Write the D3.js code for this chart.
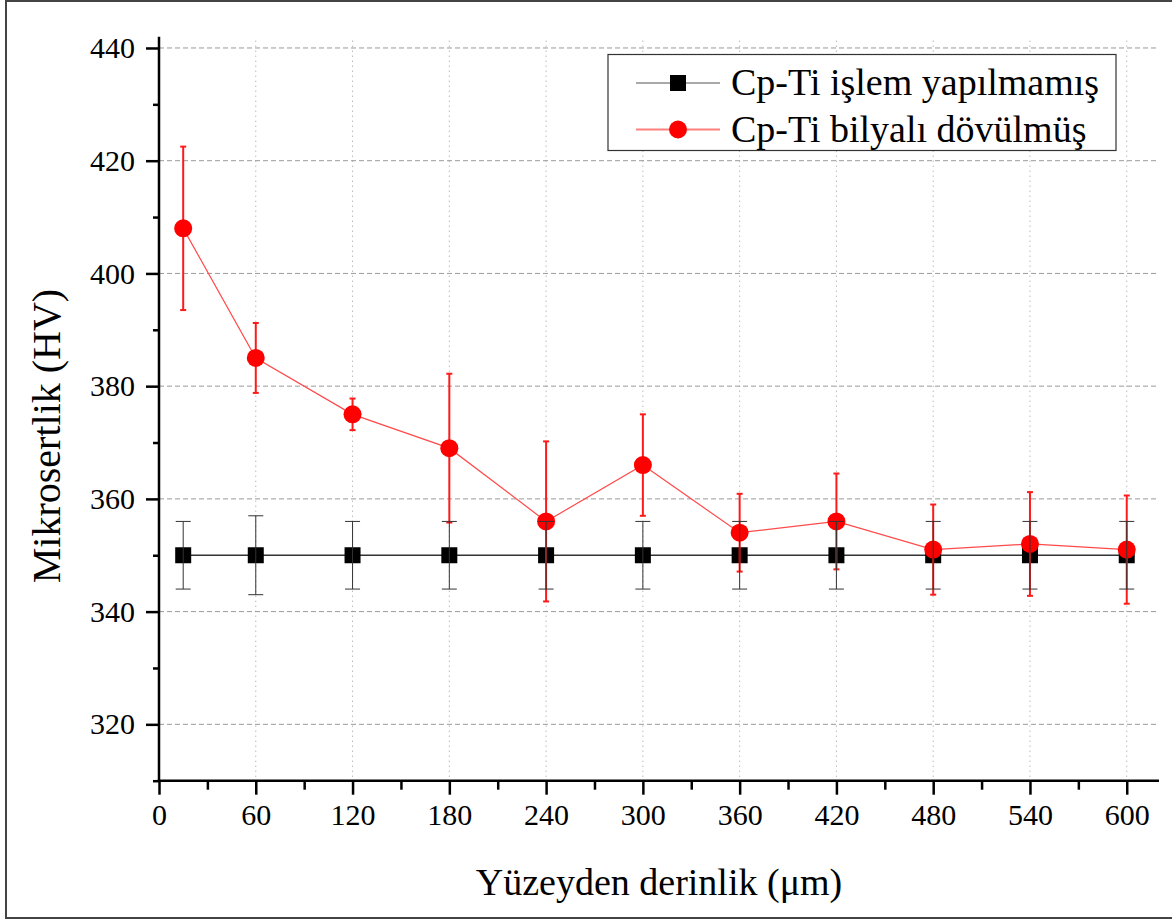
<!DOCTYPE html>
<html>
<head>
<meta charset="utf-8">
<script src="https://cdn.jsdelivr.net/npm/d3@7"></script>
<style>
  html, body { margin: 0; padding: 0; background: #fff; }
  svg { display: block; }
  text { font-family: "Liberation Serif", "Times New Roman", serif; fill: #000; }
</style>
</head>
<body>
<svg id="chart" width="1172" height="919"></svg>
<script>
// Depth below surface (µm)
const depth = [15, 60, 120, 180, 240, 300, 360, 420, 480, 540, 600];
// Microhardness (HV), untreated Cp-Ti
const untreated = [350, 350, 350, 350, 350, 350, 350, 350, 350, 350, 350];
const untreatedErr = [6, 7, 6, 6, 6, 6, 6, 6, 6, 6, 6];
// Microhardness (HV), shot-peened Cp-Ti
const peened = [408, 385, 375, 369, 356, 366, 354, 356, 351, 352, 351];
const peenedErr = [14.5, 6.2, 2.8, 13.2, 14.2, 9, 6.9, 8.5, 8, 9.2, 9.6];

const xTicks = [0, 60, 120, 180, 240, 300, 360, 420, 480, 540, 600];
const xMinor = [30, 90, 150, 210, 270, 330, 390, 450, 510, 570];
const yTicks = [320, 340, 360, 380, 400, 420, 440];
const yMinor = [310, 330, 350, 370, 390, 410, 430];

const seriesNames = ["Cp-Ti işlem yapılmamış", "Cp-Ti bilyalı dövülmüş"];
const xTitle = "Yüzeyden derinlik (μm)";
const yTitle = "Mikrosertlik (HV)";

const serif = "'Liberation Serif', 'Times New Roman', serif";
const svg = d3.select("#chart");

// outer frame
svg.append("rect")
  .attr("x", 6).attr("y", 1).attr("width", 1180).attr("height", 917)
  .attr("fill", "none").attr("stroke", "#444").attr("stroke-width", 2);

const plot = { left: 159, right: 1159, top: 36.7, bottom: 780.7 };

const x = d3.scaleLinear().domain([0, 620]).range([plot.left, plot.right]);
const y = d3.scaleLinear().domain([310, 442]).range([plot.bottom, plot.top]);

// grid
const grid = svg.append("g");
grid.selectAll("line.h").data(yTicks).join("line")
  .attr("x1", plot.left).attr("x2", plot.right)
  .attr("y1", d => y(d)).attr("y2", d => y(d))
  .attr("stroke", "#9a9a9a").attr("stroke-width", 1)
  .attr("stroke-dasharray", "5,3");
grid.selectAll("line.v").data(xTicks.filter(d => d > 0)).join("line")
  .attr("x1", d => x(d)).attr("x2", d => x(d))
  .attr("y1", plot.top + 4).attr("y2", plot.bottom)
  .attr("stroke", "#9a9a9a").attr("stroke-width", 1)
  .attr("stroke-dasharray", "1,4");

// axes
const axisStyle = g => {
  g.attr("font-family", serif);
  g.select(".domain").remove();
  g.selectAll(".tick line").attr("stroke", "#000").attr("stroke-width", 2.5);
  g.selectAll(".tick text").attr("font-family", serif)
    .style("font-family", serif).style("font-size", "30px").attr("fill", "#000");
};

svg.append("g").attr("transform", `translate(0,${plot.bottom})`)
  .call(d3.axisBottom(x).tickValues(xMinor).tickSize(9).tickFormat(""))
  .call(axisStyle);
svg.append("g").attr("transform", `translate(0,${plot.bottom})`)
  .call(d3.axisBottom(x).tickValues(xTicks).tickSize(14).tickPadding(9).tickFormat(d3.format("d")))
  .call(axisStyle);
svg.append("g").attr("transform", `translate(${plot.left},0)`)
  .call(d3.axisLeft(y).tickValues(yMinor).tickSize(6).tickFormat(""))
  .call(axisStyle);
svg.append("g").attr("transform", `translate(${plot.left},0)`)
  .call(d3.axisLeft(y).tickValues(yTicks).tickSize(13).tickPadding(11).tickFormat(d3.format("d")))
  .call(axisStyle);

// axis lines
svg.append("line").attr("x1", plot.left).attr("x2", plot.left)
  .attr("y1", plot.top).attr("y2", plot.bottom + 1.25)
  .attr("stroke", "#000").attr("stroke-width", 2.5);
svg.append("line").attr("x1", plot.left - 1.25).attr("x2", plot.right)
  .attr("y1", plot.bottom).attr("y2", plot.bottom)
  .attr("stroke", "#000").attr("stroke-width", 2.5);

const ptsU = depth.map((d, i) => ({ x: d, y: untreated[i], e: untreatedErr[i] }));
const ptsP = depth.map((d, i) => ({ x: d, y: peened[i], e: peenedErr[i] }));
const line = d3.line().x(d => x(d.x)).y(d => y(d.y));

function errorBars(g, pts, color, width, capHalf) {
  const eb = g.append("g").attr("stroke", color).attr("stroke-width", width);
  eb.selectAll("line.v").data(pts).join("line")
    .attr("x1", d => x(d.x)).attr("x2", d => x(d.x))
    .attr("y1", d => y(d.y + d.e)).attr("y2", d => y(d.y - d.e));
  eb.selectAll("line.t").data(pts).join("line")
    .attr("x1", d => x(d.x) - capHalf).attr("x2", d => x(d.x) + capHalf)
    .attr("y1", d => y(d.y + d.e)).attr("y2", d => y(d.y + d.e));
  eb.selectAll("line.b").data(pts).join("line")
    .attr("x1", d => x(d.x) - capHalf).attr("x2", d => x(d.x) + capHalf)
    .attr("y1", d => y(d.y - d.e)).attr("y2", d => y(d.y - d.e));
}

const marks = svg.append("g");
// untreated series: line and squares
marks.append("path").datum(ptsU).attr("d", line)
  .attr("fill", "none").attr("stroke", "#333").attr("stroke-width", 1.5);
marks.selectAll("rect.sq").data(ptsU).join("rect")
  .attr("x", d => x(d.x) - 8).attr("y", d => y(d.y) - 8)
  .attr("width", 16).attr("height", 16).attr("fill", "#000");
// peened series: line, error bars, circles
marks.append("path").datum(ptsP).attr("d", line)
  .attr("fill", "none").attr("stroke", "#ff4a4a").attr("stroke-width", 1.2);
errorBars(marks, ptsP, "#ff1a1a", 2, 3);
marks.selectAll("circle.pt").data(ptsP).join("circle")
  .attr("cx", d => x(d.x)).attr("cy", d => y(d.y))
  .attr("r", 9).attr("fill", "#ff0000");
// untreated error bars on top
errorBars(marks, ptsU, "#333", 1, 7.5);

// legend
const lg = svg.append("g");
lg.append("rect").attr("x", 608).attr("y", 54.5).attr("width", 508).attr("height", 96)
  .attr("fill", "#fff").attr("stroke", "#333").attr("stroke-width", 1.2);
const rows = [83, 129.5];
lg.append("line").attr("x1", 636).attr("x2", 720).attr("y1", rows[0]).attr("y2", rows[0])
  .attr("stroke", "#555").attr("stroke-width", 1.2);
lg.append("rect").attr("x", 678 - 8).attr("y", rows[0] - 8).attr("width", 16).attr("height", 16).attr("fill", "#000");
lg.append("line").attr("x1", 636).attr("x2", 720).attr("y1", rows[1]).attr("y2", rows[1])
  .attr("stroke", "#ff8080").attr("stroke-width", 2);
lg.append("circle").attr("cx", 678).attr("cy", rows[1]).attr("r", 9).attr("fill", "#ff0000");
lg.selectAll("text").data(seriesNames).join("text")
  .attr("x", 731).attr("y", (d, i) => rows[i] + 12)
  .style("font-size", "38px").text(d => d);

// axis titles
svg.append("text").attr("x", (plot.left + plot.right) / 2).attr("y", 895)
  .attr("text-anchor", "middle").style("font-size", "38px").text(xTitle);
svg.append("text").attr("transform", "translate(60,436) rotate(-90)")
  .attr("text-anchor", "middle").style("font-size", "40px").text(yTitle);
</script>
</body>
</html>
